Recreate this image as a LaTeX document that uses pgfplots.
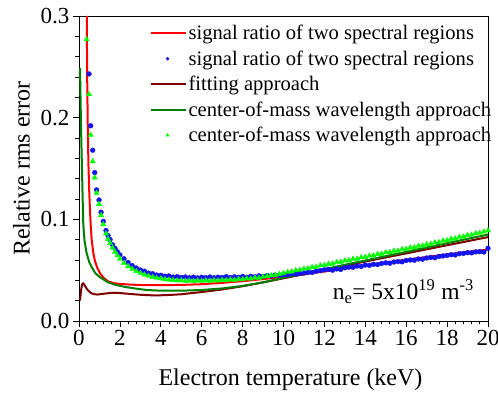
\documentclass[border=0pt]{standalone}
\usepackage{fontspec}
\setmainfont{Liberation Serif}
\usepackage{pgfplots}
\pgfplotsset{compat=1.18}
\definecolor{cred}{RGB}{255,0,0}
\definecolor{cblue}{RGB}{20,20,240}
\definecolor{cdred}{RGB}{128,0,0}
\definecolor{cdgreen}{RGB}{0,128,0}
\definecolor{cgreen}{RGB}{0,255,0}
\pgfplotsset{
  linelegend/.style={legend image code/.code={\draw[##1] (0pt,0pt) -- (35pt,0pt);}},
  marklegend/.style={legend image code/.code={\draw[##1, mark size=#1] plot coordinates {(17pt,0pt)};}},
}
\begin{document}
\begin{tikzpicture}
\begin{axis}[
  scale only axis, width=409pt, height=305pt,
  xmin=0, xmax=20, ymin=0, ymax=0.3,
  xtick={0,2,...,20}, ytick={0,0.1,0.2,0.3},
  yticklabels={0.0,0.1,0.2,0.3},
  minor x tick num=4, minor y tick num=4,
  tick align=outside, tick pos=left,
  major tick length=6pt, minor tick length=3.5pt,
  tick style={black, line width=0.7pt},
  axis line style={line width=0.8pt},
  /pgf/number format/assume math mode=true,
  tick label style={font=\fontsize{23}{26}\selectfont},
  label style={font=\fontsize{24}{28}\selectfont},
  xlabel={Electron temperature (keV)},
  ylabel={Relative rms error},
  xlabel style={yshift=-16pt, xshift=7pt},
  ylabel style={yshift=4pt},
  legend style={at={(0.172,0.977)}, anchor=north west, draw=none, fill=none,
    font=\fontsize{20.6}{23}\selectfont, row sep=5.5pt, inner sep=0pt},
  legend cell align=left,
]
\addplot[cred, line width=2pt, linelegend] coordinates {
(0.38,0.30) (0.40,0.24) (0.43,0.19) (0.46,0.155) (0.50,0.128) (0.54,0.107) (0.58,0.092)
(0.62,0.080) (0.70,0.067) (0.78,0.059) (0.90,0.052) (1.03,0.047) (1.2,0.0425) (1.42,0.039)
(1.7,0.0372) (2.0,0.0365) (2.5,0.0358) (3.0,0.0354) (4.0,0.0352) (5.0,0.0355) (6.0,0.0362)
(7.0,0.0375) (8.0,0.0392) (9.0,0.0412) (10,0.0435) (11,0.046) (12,0.0487) (13,0.0515)
(14,0.0545) (15,0.0575) (16,0.0603) (17,0.063) (18,0.0655) (19,0.068) (20,0.0702)};
\addlegendentry{signal ratio of two spectral regions}
\addplot[only marks, mark=*, mark size=2.4pt, color=cblue, marklegend=1.5pt] coordinates {
(0.49,0.243) (0.57,0.192) (0.67,0.168) (0.77,0.146) (0.86,0.129) (0.98,0.119) (1.08,0.107)
(1.19,0.098) (1.32,0.089) (1.42,0.084) (1.52,0.080) (1.64,0.075) (1.76,0.0715) (1.88,0.068)
(2.0,0.0650) (2.2,0.0612) (2.4,0.0575) (2.6,0.0545) (2.8,0.0521) (3.0,0.0502) (3.2,0.0490)
(3.4,0.0471) (3.6,0.0465) (3.8,0.0452) (4.0,0.0450) (4.2,0.0441) (4.4,0.0443) (4.6,0.0432)
(4.8,0.0436) (5.0,0.0428) (5.2,0.0433) (5.4,0.0425) (5.6,0.0431) (5.8,0.0424) (6.0,0.0430)
(6.2,0.0426) (6.4,0.0433) (6.6,0.0425) (6.8,0.0431) (7.0,0.0428) (7.2,0.0436) (7.4,0.0427)
(7.6,0.0434) (7.8,0.0430) (8.0,0.0438) (8.2,0.0431) (8.4,0.0440) (8.6,0.0435) (8.8,0.0444)
(9.0,0.0439) (9.2,0.0447) (9.4,0.0444) (9.6,0.0452) (9.8,0.0449) (10.0,0.0458) (10.2,0.0455)
(10.4,0.0465) (10.6,0.0461) (10.8,0.0470) (11.0,0.0472) (11.2,0.0480) (11.4,0.0478) (11.6,0.0490)
(11.8,0.0495) (12.0,0.0503) (12.2,0.0508) (12.4,0.0500) (12.6,0.0512) (12.8,0.0507) (13.0,0.0523)
(13.2,0.0530) (13.4,0.0528) (13.6,0.0540) (13.8,0.0537) (14.0,0.0550) (14.2,0.0548) (14.4,0.0558)
(14.6,0.0555) (14.8,0.0566) (15.0,0.0572) (15.2,0.0568) (15.4,0.0580) (15.6,0.0585) (15.8,0.0582)
(16.0,0.0595) (16.2,0.0600) (16.4,0.0598) (16.6,0.0610) (16.8,0.0608) (17.0,0.0620) (17.2,0.0625)
(17.4,0.0622) (17.6,0.0635) (17.8,0.0640) (18.0,0.0645) (18.2,0.0652) (18.4,0.0650) (18.6,0.0662)
(18.8,0.0665) (19.0,0.0672) (19.2,0.0670) (19.4,0.0680) (19.6,0.0682) (19.8,0.0678) (20.0,0.0715)};
\addlegendentry{signal ratio of two spectral regions}
\addplot[cdred, line width=2pt, linelegend] coordinates {
(0.05,0.020) (0.10,0.030) (0.15,0.036) (0.20,0.037) (0.28,0.035) (0.4,0.031) (0.55,0.028)
(0.7,0.0265) (0.9,0.026) (1.2,0.0268) (1.66,0.0278) (2.0,0.0275) (2.5,0.0266) (3.0,0.0258)
(3.5,0.0253) (4.0,0.0253) (4.5,0.0257) (5.0,0.0263) (6.0,0.0285) (7.0,0.031) (8.0,0.0342)
(9.0,0.038) (10,0.042) (11,0.046) (12,0.050) (13,0.0543) (14,0.0585) (15,0.0625)
(16,0.0665) (17,0.0705) (18,0.0745) (19,0.0785) (20,0.0825)};
\addlegendentry{fitting approach}
\addplot[cdgreen, line width=2pt, linelegend] coordinates {
(0.05,0.249) (0.10,0.19) (0.14,0.155) (0.17,0.128) (0.21,0.095) (0.27,0.079) (0.37,0.067)
(0.5,0.058) (0.62,0.053) (0.8,0.047) (1.03,0.043) (1.42,0.038) (1.8,0.0355) (2.25,0.0335)
(2.74,0.032) (3.3,0.0305) (4.0,0.0298) (5.0,0.0298) (6.0,0.0305) (7.0,0.032) (8.0,0.0345)
(9.0,0.038) (10,0.0425) (11,0.0468) (12,0.051) (13,0.0553) (14,0.0595) (15,0.0638)
(16,0.068) (17,0.0723) (18,0.0765) (19,0.0808) (20,0.085)};
\addlegendentry{center-of-mass wavelength approach}
\addplot[only marks, mark=triangle*, mark size=3pt, color=cgreen, marklegend=1.8pt] coordinates {
(0.37,0.277) (0.49,0.223) (0.57,0.183) (0.67,0.157) (0.77,0.141) (0.86,0.126) (0.98,0.115)
(1.08,0.104) (1.19,0.095) (1.32,0.086) (1.42,0.0805) (1.52,0.0765) (1.64,0.0720) (1.76,0.0680)
(1.88,0.0645) (2.0,0.0612) (2.2,0.0572) (2.4,0.0538) (2.6,0.0512) (2.8,0.0490) (3.0,0.0472)
(3.2,0.0455) (3.4,0.0443) (3.6,0.0432) (3.8,0.0423) (4.0,0.0418) (4.2,0.0410) (4.4,0.0406)
(4.6,0.0402) (4.8,0.0398) (5.0,0.0400) (5.2,0.0394) (5.4,0.0397) (5.6,0.0392) (5.8,0.0398)
(6.0,0.0393) (6.2,0.0399) (6.4,0.0395) (6.6,0.0401) (6.8,0.0397) (7.0,0.0404) (7.2,0.0400)
(7.4,0.0407) (7.6,0.0404) (7.8,0.0412) (8.0,0.0409) (8.2,0.0418) (8.4,0.0416) (8.6,0.0426)
(8.8,0.0424) (9.0,0.0435) (9.2,0.0440) (9.4,0.0448) (9.6,0.0452) (9.8,0.0462) (10.0,0.0470)
(10.2,0.0482) (10.4,0.0486) (10.6,0.0498) (10.8,0.0502) (11.0,0.0514) (11.2,0.0516) (11.4,0.0530)
(11.6,0.0532) (11.8,0.0546) (12.0,0.0548) (12.2,0.0562) (12.4,0.0563) (12.6,0.0578) (12.8,0.0580)
(13.0,0.0594) (13.2,0.0596) (13.4,0.0610) (13.6,0.0611) (13.8,0.0626) (14.0,0.0628) (14.2,0.0642)
(14.4,0.0643) (14.6,0.0658) (14.8,0.0660) (15.0,0.0674) (15.2,0.0676) (15.4,0.0690) (15.6,0.0691)
(15.8,0.0706) (16.0,0.0708) (16.2,0.0722) (16.4,0.0724) (16.6,0.0738) (16.8,0.0740) (17.0,0.0754)
(17.2,0.0757) (17.4,0.0772) (17.6,0.0774) (17.8,0.0790) (18.0,0.0793) (18.2,0.0808) (18.4,0.0811)
(18.6,0.0826) (18.8,0.0830) (19.0,0.0844) (19.2,0.0848) (19.4,0.0862) (19.6,0.0866) (19.8,0.0878)
(20.0,0.0890)};
\addlegendentry{center-of-mass wavelength approach}
\node[anchor=base west, font=\fontsize{23.5}{26}\selectfont, inner sep=0pt] at (axis cs:12.4,0.021)
  {n\textsubscript{e}= 5x10\textsuperscript{19} m\textsuperscript{-3}};
\end{axis}
\pgfresetboundingbox
\useasboundingbox (-79pt,-75pt) rectangle (419pt,321pt);
\end{tikzpicture}
\end{document}
